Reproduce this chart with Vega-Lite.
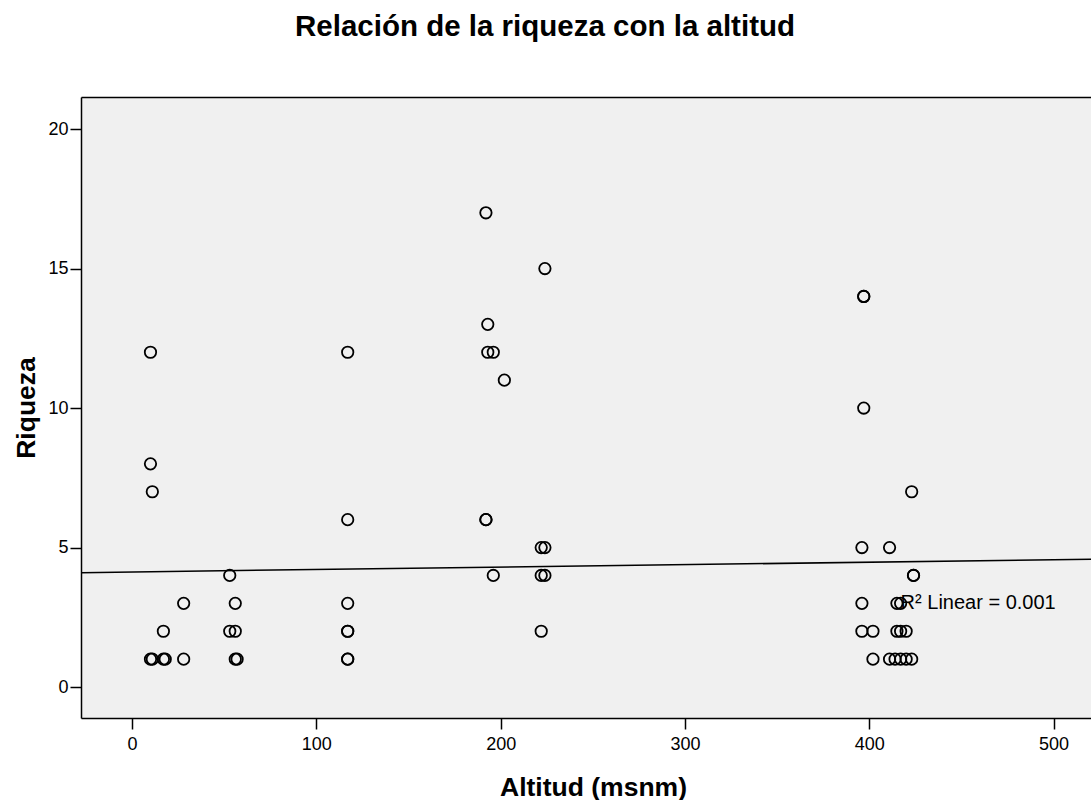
{
  "$schema": "https://vega.github.io/schema/vega-lite/v6.json",
  "autosize": {"type": "none"},
  "padding": {"left": 81, "top": 97, "right": 0, "bottom": 82},
  "width": 1010,
  "height": 621,
  "background": "white",
  "config": {
    "view": {"fill": "#F0F0F0", "stroke": null},
    "font": "Liberation Sans",
    "axis": {"grid": false, "domainColor": "black", "domainWidth": 1.5, "tickColor": "black", "tickWidth": 1.5, "tickSize": 11, "labelColor": "black", "labelFontSize": 18, "titleColor": "black", "titleFontSize": 26.5, "titleFontWeight": "bold", "labelFont": "Liberation Sans", "titleFont": "Liberation Sans"}
  },
  "title": {"text": "Relación de la riqueza con la altitud", "fontSize": 29.5, "fontWeight": "bold", "color": "black", "font": "Liberation Sans", "anchor": "middle", "frame": "group", "dx": -41, "offset": 55},
  "datasets": {
    "points": [
      {"Altitud": 10, "Riqueza": 12}, {"Altitud": 10, "Riqueza": 8}, {"Altitud": 11, "Riqueza": 7},
      {"Altitud": 53, "Riqueza": 4}, {"Altitud": 28, "Riqueza": 3}, {"Altitud": 56, "Riqueza": 3},
      {"Altitud": 17, "Riqueza": 2}, {"Altitud": 53, "Riqueza": 2}, {"Altitud": 56, "Riqueza": 2},
      {"Altitud": 10, "Riqueza": 1}, {"Altitud": 11, "Riqueza": 1}, {"Altitud": 17, "Riqueza": 1},
      {"Altitud": 18, "Riqueza": 1}, {"Altitud": 28, "Riqueza": 1}, {"Altitud": 56, "Riqueza": 1},
      {"Altitud": 57, "Riqueza": 1},
      {"Altitud": 117, "Riqueza": 12}, {"Altitud": 117, "Riqueza": 6}, {"Altitud": 117, "Riqueza": 3},
      {"Altitud": 117, "Riqueza": 2}, {"Altitud": 117, "Riqueza": 2}, {"Altitud": 117, "Riqueza": 1},
      {"Altitud": 117, "Riqueza": 1},
      {"Altitud": 192, "Riqueza": 17}, {"Altitud": 224, "Riqueza": 15}, {"Altitud": 193, "Riqueza": 13},
      {"Altitud": 193, "Riqueza": 12}, {"Altitud": 196, "Riqueza": 12}, {"Altitud": 202, "Riqueza": 11},
      {"Altitud": 192, "Riqueza": 6}, {"Altitud": 192, "Riqueza": 6}, {"Altitud": 222, "Riqueza": 5},
      {"Altitud": 224, "Riqueza": 5}, {"Altitud": 196, "Riqueza": 4}, {"Altitud": 222, "Riqueza": 4},
      {"Altitud": 224, "Riqueza": 4}, {"Altitud": 222, "Riqueza": 2},
      {"Altitud": 397, "Riqueza": 14}, {"Altitud": 397, "Riqueza": 14}, {"Altitud": 397, "Riqueza": 10},
      {"Altitud": 423, "Riqueza": 7}, {"Altitud": 396, "Riqueza": 5}, {"Altitud": 411, "Riqueza": 5},
      {"Altitud": 424, "Riqueza": 4}, {"Altitud": 424, "Riqueza": 4}, {"Altitud": 396, "Riqueza": 3},
      {"Altitud": 415, "Riqueza": 3}, {"Altitud": 417, "Riqueza": 3}, {"Altitud": 396, "Riqueza": 2},
      {"Altitud": 402, "Riqueza": 2}, {"Altitud": 415, "Riqueza": 2}, {"Altitud": 417, "Riqueza": 2},
      {"Altitud": 420, "Riqueza": 2}, {"Altitud": 402, "Riqueza": 1}, {"Altitud": 411, "Riqueza": 1},
      {"Altitud": 414, "Riqueza": 1}, {"Altitud": 417, "Riqueza": 1}, {"Altitud": 420, "Riqueza": 1},
      {"Altitud": 423, "Riqueza": 1}
    ],
    "fit": [
      {"Altitud": -27.7, "Riqueza": 4.10},
      {"Altitud": 520.3, "Riqueza": 4.58}
    ],
    "note": [
      {"Altitud": 417, "Riqueza": 3, "label": "R² Linear = 0.001"}
    ]
  },
  "layer": [
    {
      "data": {"name": "fit"},
      "mark": {"type": "line", "color": "black", "strokeWidth": 1.5, "clip": true},
      "encoding": {
        "x": {"field": "Altitud", "type": "quantitative", "scale": {"domain": [-27.7, 520.3], "nice": false, "zero": false},
              "axis": {"orient": "bottom", "values": [0, 100, 200, 300, 400, 500], "title": "Altitud (msnm)", "labelPadding": 6, "titlePadding": 21, "titleX": 512}},
        "y": {"field": "Riqueza", "type": "quantitative", "scale": {"domain": [-1.11, 21.15], "nice": false, "zero": false},
              "axis": {"orient": "left", "values": [0, 5, 10, 15, 20], "title": "Riqueza", "labelPadding": 2, "titlePadding": 7}}
      }
    },
    {
      "data": {"name": "points"},
      "mark": {"type": "point", "shape": "circle", "filled": false, "color": "black", "size": 130, "strokeWidth": 1.8, "opacity": 1},
      "encoding": {
        "x": {"field": "Altitud", "type": "quantitative",
              "axis": {"orient": "top", "labels": false, "ticks": false, "domain": true, "title": null}},
        "y": {"field": "Riqueza", "type": "quantitative"}
      }
    },
    {
      "data": {"name": "note"},
      "mark": {"type": "text", "align": "left", "baseline": "middle", "fontSize": 20, "color": "black", "font": "Liberation Sans", "dx": 0},
      "encoding": {
        "x": {"field": "Altitud", "type": "quantitative", "axis": null},
        "y": {"field": "Riqueza", "type": "quantitative"},
        "text": {"field": "label"}
      }
    }
  ],
  "resolve": {"axis": {"x": "independent"}}
}
